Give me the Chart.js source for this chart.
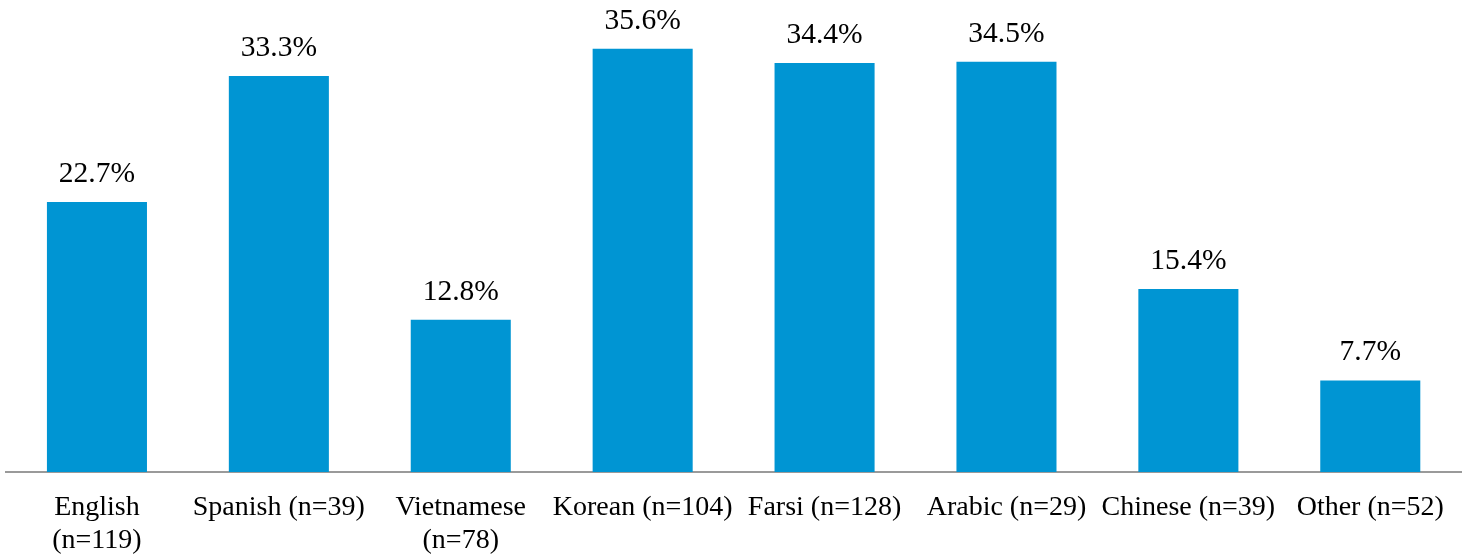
<!DOCTYPE html>
<html>
<head>
<meta charset="utf-8">
<script src="https://cdn.jsdelivr.net/npm/chart.js@4/dist/chart.umd.min.js"></script>
<style>
  html, body { margin: 0; padding: 0; background: #ffffff; }
  #wrap { width: 1464px; height: 557px; }
</style>
</head>
<body>
<div id="wrap"><canvas id="c" width="1464" height="557"></canvas></div>
<script>
const categories = [
  ["English", "(n=119)"],
  "Spanish (n=39)",
  ["Vietnamese", "(n=78)"],
  "Korean (n=104)",
  "Farsi (n=128)",
  "Arabic (n=29)",
  "Chinese (n=39)",
  "Other (n=52)"
];
const values = [22.7, 33.3, 12.8, 35.6, 34.4, 34.5, 15.4, 7.7];
const valueLabels = ["22.7%", "33.3%", "12.8%", "35.6%", "34.4%", "34.5%", "15.4%", "7.7%"];

const FONT = '"Liberation Serif", "Times New Roman", serif';

const labelPlugin = {
  id: 'valueLabels',
  afterDatasetsDraw(chart) {
    const ctx = chart.ctx;
    const meta = chart.getDatasetMeta(0);
    ctx.save();
    ctx.font = '29.5px ' + FONT;
    ctx.fillStyle = '#000000';
    ctx.textAlign = 'center';
    ctx.textBaseline = 'alphabetic';
    meta.data.forEach((bar, i) => {
      ctx.fillText(valueLabels[i], bar.x, bar.y - 20);
    });
    ctx.restore();
  }
};

new Chart(document.getElementById('c'), {
  type: 'bar',
  data: {
    labels: categories,
    datasets: [{
      data: values,
      backgroundColor: '#0095D3',
      borderWidth: 0,
      barPercentage: 0.55,
      categoryPercentage: 1.0
    }]
  },
  options: {
    responsive: false,
    animation: false,
    layout: { padding: { left: 6, right: 2, top: 0, bottom: 0 } },
    plugins: {
      legend: { display: false },
      tooltip: { enabled: false }
    },
    scales: {
      x: {
        grid: { display: false, drawTicks: false },
        border: { display: true, color: '#9a9a9a', width: 2 },
        ticks: {
          autoSkip: false,
          maxRotation: 0,
          minRotation: 0,
          color: '#000000',
          padding: 20,
          font: { family: FONT, size: 28, lineHeight: 1.15 }
        },
        afterFit(scale) { scale.height = 85; }
      },
      y: {
        display: false,
        min: 0,
        max: 39.7
      }
    }
  },
  plugins: [labelPlugin]
});
</script>
</body>
</html>
